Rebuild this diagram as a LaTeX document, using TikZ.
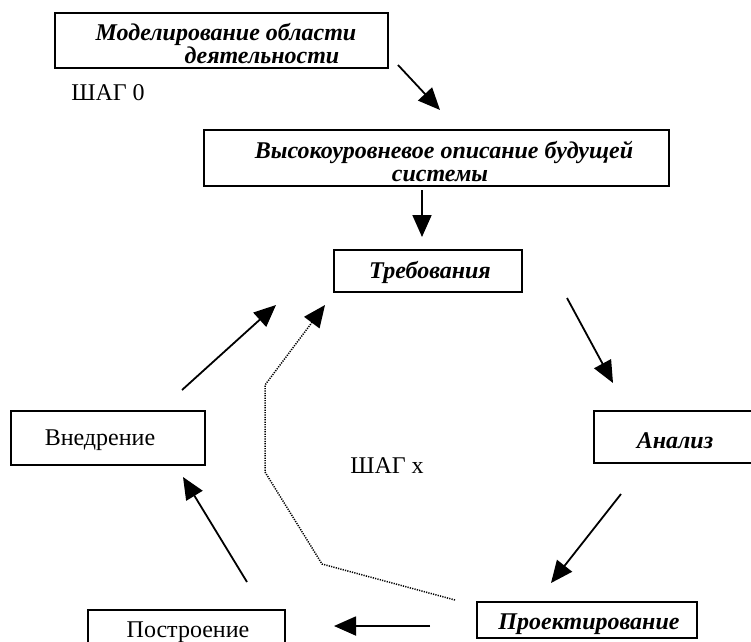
\documentclass[tikz,border=0pt]{standalone}
\usepackage{fontspec}
\setmainfont{Liberation Serif}
\usetikzlibrary{arrows.meta}
\begin{document}
\begin{tikzpicture}[x=1pt,y=-1pt,
  frame/.style={draw, line width=1.8pt, rectangle, inner sep=0pt},
  stagetext/.style={font=\fontsize{24}{26}\selectfont\bfseries\itshape, inner sep=0pt, anchor=base},
  plaintext/.style={font=\fontsize{24}{26}\selectfont, inner sep=0pt, anchor=base},
  flow/.style={line width=1.8pt, -{Triangle[length=22pt,width=19pt]}},
  loopback/.style={line width=1.5pt, dash pattern=on 1.2pt off 1.2pt, -{Triangle[length=22pt,width=19pt]}}]
\clip (0,0) rectangle (751,641);
\fill[white] (0,0) rectangle (751,641);

% frames
\node[frame, minimum width=333pt, minimum height=55pt] (model) at (221.5,40.5) {};
\node[frame, minimum width=465pt, minimum height=56pt] (hlvl) at (436.5,158) {};
\node[frame, minimum width=188pt, minimum height=42pt] (req) at (428,271) {};
\node[frame, minimum width=170pt, minimum height=52pt] (anal) at (679,437) {};
\node[frame, minimum width=220pt, minimum height=36pt] (design) at (587,620) {};
\node[frame, minimum width=197pt, minimum height=60pt] (build) at (186.5,640) {};
\node[frame, minimum width=194pt, minimum height=54pt] (deploy) at (108,438) {};

% labels
\node[stagetext] (modelA) at (226,40) {Моделирование области};
\node[stagetext] (modelB) at (262,63) {деятельности};
\node[stagetext] (hlvlA) at (444,158) {Высокоуровневое описание будущей};
\node[stagetext] (hlvlB) at (440,181) {системы};
\node[stagetext] (reqT) at (430,278) {Требования};
\node[stagetext] (analT) at (675,448) {Анализ};
\node[stagetext] (designT) at (589,629) {Проектирование};
\node[plaintext] (buildT) at (188,637) {Построение};
\node[plaintext] (deployT) at (100,445) {Внедрение};
\node[plaintext] (step0) at (108,100) {ШАГ 0};
\node[plaintext] (stepx) at (387,473) {ШАГ x};

% connector ends
\coordinate (a1s) at (398,65);  \coordinate (a1e) at (440,110);
\coordinate (a2s) at (422,190); \coordinate (a2e) at (422,237);
\coordinate (a3s) at (567,298); \coordinate (a3e) at (613,383);
\coordinate (a4s) at (621,494); \coordinate (a4e) at (551,583);
\coordinate (a5s) at (430,626); \coordinate (a5e) at (334,626);
\coordinate (a6s) at (247,582); \coordinate (a6e) at (183,477);
\coordinate (a7s) at (182,390); \coordinate (a7e) at (276,305);
\coordinate (b0) at (455,600);
\coordinate (b1) at (322,564);
\coordinate (b2) at (265,472);
\coordinate (b3) at (265,385);
\coordinate (b4) at (325,305);

\draw[flow] (a1s) -- (a1e);
\draw[flow] (a2s) -- (a2e);
\draw[flow] (a3s) -- (a3e);
\draw[flow] (a4s) -- (a4e);
\draw[flow] (a5s) -- (a5e);
\draw[flow] (a6s) -- (a6e);
\draw[flow] (a7s) -- (a7e);
\draw[loopback] (b0) -- (b1) -- (b2) -- (b3) -- (b4);
\end{tikzpicture}
\end{document}
